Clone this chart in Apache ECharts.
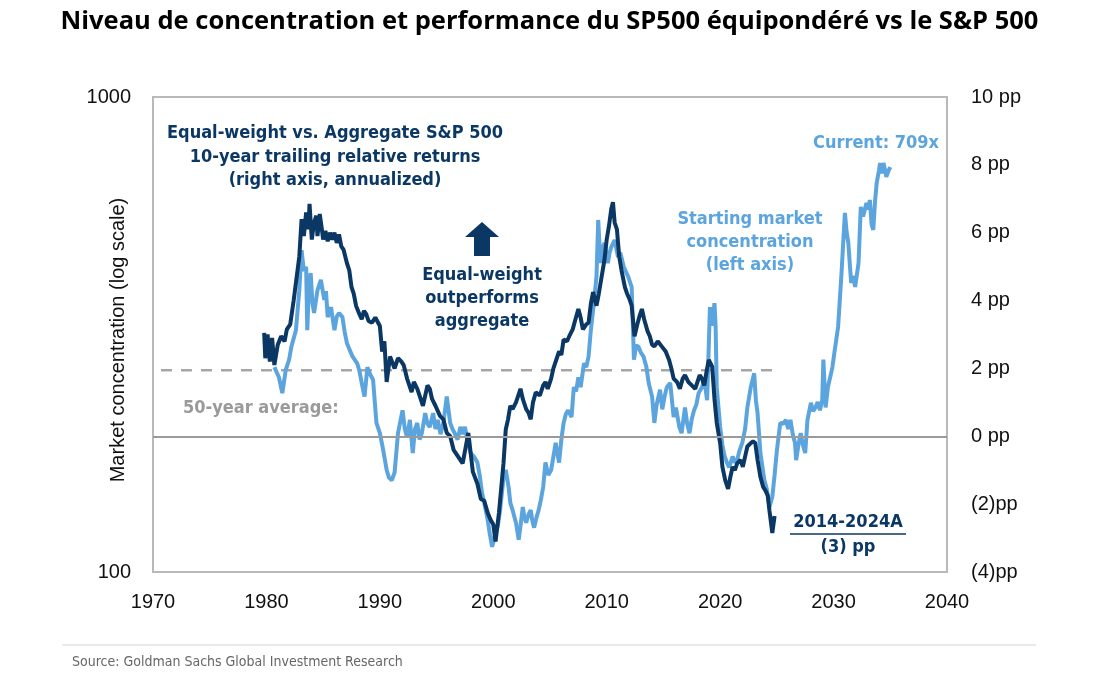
<!DOCTYPE html>
<html>
<head>
<meta charset="utf-8">
<script src="https://cdn.jsdelivr.net/npm/echarts@6/dist/echarts.min.js"></script>
<style>
html,body{margin:0;padding:0;background:#fff;}
#chart{width:1099px;height:676px;}
</style>
</head>
<body>
<div id="chart"></div>
<script>
// ---- Data ----
const xTicks = [1970, 1980, 1990, 2000, 2010, 2020, 2030, 2040];
const leftTicks = [100, 1000];
const rightTicks = [-4, -2, 0, 2, 4, 6, 8, 10];

// Equal-weight vs aggregate S&P 500, 10-year trailing relative returns (pp, right axis)
const relYears = [1979.8,1979.9,1980.1,1980.3,1980.5,1980.7,1981.0,1981.3,1981.6,1981.8,1982.1,1982.4,1982.9,1983.1,1983.3,1983.5,1983.7,1983.8,1984.0,1984.2,1984.4,1984.5,1984.7,1984.85,1985.0,1985.2,1985.4,1985.6,1985.8,1986.0,1986.2,1986.4,1986.6,1986.8,1987.1,1987.3,1987.5,1987.7,1987.9,1988.2,1988.4,1988.6,1988.8,1989.0,1989.3,1989.6,1990.0,1990.2,1990.4,1990.6,1990.9,1991.3,1991.6,1991.9,1992.1,1992.4,1992.8,1993.0,1993.3,1993.5,1993.8,1994.2,1994.4,1994.6,1994.9,1995.3,1995.6,1995.9,1996.2,1996.5,1996.9,1997.3,1997.8,1998.2,1998.6,1998.9,1999.2,1999.5,1999.75,2000.0,2000.2,2000.5,2000.9,2001.1,2001.3,2001.5,2001.7,2002.0,2002.2,2002.4,2002.6,2002.9,2003.1,2003.3,2003.5,2003.75,2004.1,2004.4,2004.6,2004.8,2005.1,2005.3,2005.6,2005.8,2006.0,2006.2,2006.5,2006.7,2007.0,2007.2,2007.5,2007.7,2007.9,2008.2,2008.4,2008.6,2008.8,2009.1,2009.3,2009.5,2009.8,2010.0,2010.2,2010.4,2010.55,2010.7,2010.9,2011.1,2011.3,2011.6,2011.8,2012.0,2012.2,2012.45,2012.7,2012.9,2013.1,2013.3,2013.6,2013.8,2014.0,2014.2,2014.5,2014.85,2015.2,2015.5,2015.7,2015.9,2016.2,2016.45,2016.7,2016.9,2017.2,2017.5,2017.8,2018.0,2018.2,2018.4,2018.6,2018.85,2019.0,2019.1,2019.3,2019.5,2019.7,2020.0,2020.2,2020.45,2020.7,2020.9,2021.1,2021.3,2021.5,2021.8,2022.0,2022.2,2022.4,2022.7,2022.9,2023.1,2023.3,2023.55,2023.8,2024.0,2024.2,2024.35,2024.6,2024.8,2024.97];
const relValues = [3.05,2.3,3.0,2.2,2.9,2.1,2.7,2.95,2.8,3.15,3.3,4.0,5.3,6.4,5.9,6.6,6.1,6.85,5.8,6.3,6.5,5.9,6.55,6.2,5.8,6.05,5.75,6.0,5.8,6.0,5.7,5.95,5.6,5.5,5.1,4.9,4.4,4.2,3.85,3.6,3.45,3.7,3.6,3.4,3.35,3.5,3.25,2.5,2.8,1.6,2.35,2.0,2.3,2.2,2.1,1.7,1.3,1.6,1.4,1.2,0.9,1.5,1.4,1.1,0.9,0.6,0.5,0.1,0.0,-0.4,-0.6,-0.8,0.1,-1.05,-1.4,-1.85,-1.9,-2.25,-2.45,-2.6,-3.1,-2.25,-0.8,0.2,0.5,0.9,0.8,1.0,1.2,1.4,1.1,0.8,0.7,0.5,1.0,1.3,1.2,1.5,1.6,1.4,1.7,2.0,2.3,2.5,2.4,2.85,2.8,2.95,3.15,3.4,3.75,3.5,3.15,3.3,3.35,3.9,4.25,3.85,4.2,4.6,5.2,5.8,6.2,6.7,6.9,6.3,6.1,5.3,4.9,4.4,4.2,4.05,3.85,2.95,3.3,3.55,3.75,3.45,3.1,2.95,2.7,2.65,2.8,2.65,2.5,2.25,2.0,1.7,1.6,1.4,1.7,1.8,1.6,1.5,1.4,1.6,1.8,1.7,1.5,2.0,2.25,2.3,2.05,1.1,0.4,-0.2,-0.9,-1.3,-1.55,-1.2,-0.9,-1.0,-0.8,-0.7,-0.9,-0.6,-0.3,-0.2,-0.15,-0.2,-0.7,-1.2,-1.5,-1.6,-1.75,-2.2,-2.85,-2.35];

// Starting market concentration (left axis, log scale), plotted 10 years forward
const concYears = [1980.7,1981.1,1981.4,1981.7,1982.0,1982.2,1982.6,1982.9,1983.1,1983.3,1983.5,1983.6,1983.75,1983.9,1984.05,1984.2,1984.5,1984.8,1985.1,1985.25,1985.4,1985.7,1985.85,1986.0,1986.2,1986.4,1986.7,1986.9,1987.1,1987.3,1987.6,1988.0,1988.2,1988.4,1988.65,1988.9,1989.1,1989.4,1989.7,1990.0,1990.25,1990.6,1990.8,1991.05,1991.3,1991.6,1992.0,1992.2,1992.4,1992.65,1992.9,1993.1,1993.3,1993.5,1993.7,1994.0,1994.2,1994.4,1994.7,1994.9,1995.1,1995.35,1995.6,1995.9,1996.2,1996.4,1996.6,1996.85,1997.1,1997.3,1997.5,1997.7,1998.0,1998.3,1998.6,1998.8,1999.0,1999.2,1999.5,1999.7,1999.9,2000.2,2000.4,2000.6,2000.9,2001.1,2001.35,2001.5,2001.7,2002.0,2002.24,2002.4,2002.6,2002.75,2002.9,2003.1,2003.3,2003.45,2003.6,2003.8,2004.0,2004.2,2004.4,2004.6,2004.85,2005.1,2005.3,2005.5,2005.65,2005.8,2006.0,2006.2,2006.4,2006.6,2006.9,2007.1,2007.3,2007.5,2007.7,2008.0,2008.2,2008.4,2008.6,2008.9,2009.1,2009.25,2009.4,2009.5,2009.65,2009.8,2010.1,2010.25,2010.4,2010.7,2011.0,2011.2,2011.5,2011.9,2012.2,2012.4,2012.6,2012.8,2013.0,2013.25,2013.5,2013.7,2014.0,2014.2,2014.4,2014.7,2014.9,2015.1,2015.3,2015.6,2015.9,2016.1,2016.4,2016.6,2016.9,2017.1,2017.3,2017.5,2017.7,2017.9,2018.1,2018.4,2018.6,2018.85,2019.0,2019.1,2019.3,2019.5,2019.6,2019.7,2020.0,2020.2,2020.4,2020.6,2020.8,2021.1,2021.3,2021.5,2021.7,2021.95,2022.2,2022.4,2022.7,2023.0,2023.15,2023.3,2023.55,2023.9,2024.1,2024.35,2024.6,2024.8,2025.0,2025.3,2025.55,2025.8,2026.0,2026.2,2026.4,2026.6,2026.7,2026.9,2027.1,2027.3,2027.5,2027.7,2028.0,2028.2,2028.4,2028.6,2028.8,2029.0,2029.1,2029.3,2029.5,2029.7,2029.9,2030.1,2030.4,2030.7,2031.0,2031.15,2031.3,2031.55,2031.75,2031.9,2032.2,2032.4,2032.6,2032.9,2033.05,2033.2,2033.35,2033.5,2033.65,2033.8,2034.0,2034.1,2034.25,2034.4,2034.55,2034.65,2034.85,2035.0];
const concValues = [270,257,238,266,280,298,323,392,476,430,439,323,400,426,370,351,392,412,374,390,344,361,340,323,345,351,344,320,303,295,284,275,265,250,234,270,262,254,206,196,183,164,158,156,162,196,219,200,192,209,178,200,206,190,196,216,205,202,216,200,209,195,206,234,206,200,196,190,202,195,202,190,178,175,170,160,147,140,129,120,113,121,125,135,158,164,151,140,135,127,117,125,137,130,127,132,135,128,124,130,135,142,151,170,160,164,175,187,178,170,190,206,215,219,212,245,240,257,245,275,270,284,323,374,420,551,470,447,480,493,447,470,483,500,460,470,439,418,398,280,300,298,290,284,270,250,234,206,225,242,220,234,245,250,212,222,202,196,222,205,196,210,219,225,238,245,254,230,300,361,330,368,330,245,202,185,175,170,166,175,170,172,180,187,200,222,245,262,230,216,178,156,150,137,144,160,180,206,205,209,200,209,195,187,172,185,196,185,178,209,227,218,222,228,219,230,280,222,245,257,270,293,328,426,570,520,493,406,420,398,447,587,560,598,580,607,540,525,600,659,700,726,690,726,700,679,700,712];

// 50-year average reference (right axis, pp)
const avgYears = [1970.7, 2025.2];
const avgValues = [1.95, 1.95];

const DARK = '#0a3764';
const LIGHT = '#5ba4de';
const NARROW = "'Liberation Sans Narrow','Arial Narrow','DejaVu Sans Condensed',sans-serif";
const ARIAL = "'Liberation Sans',Arial,sans-serif";

const zip = (a, b) => a.map((v, i) => [v, b[i]]);

const chart = echarts.init(document.getElementById('chart'));
chart.setOption({
  animation: false,
  backgroundColor: '#fff',
  title: {
    text: 'Niveau de concentration et performance du SP500 équipondéré vs le S&P 500',
    left: 'center', top: 4,
    textStyle: { fontFamily: "'Open Sans',sans-serif", fontWeight: 'bold', fontSize: 25.5, color: '#000' }
  },
  grid: { left: 153, right: 152, top: 97, bottom: 104, show: true, borderColor: '#b9b9b9', borderWidth: 2 },
  xAxis: {
    type: 'value', min: 1970, max: 2040, interval: 10,
    axisLine: { show: false }, axisTick: { show: false }, splitLine: { show: false },
    axisLabel: { fontFamily: ARIAL, fontSize: 20, color: '#111', margin: 20,
      formatter: v => xTicks.includes(v) ? String(v) : '' }
  },
  yAxis: [
    {
      type: 'log', logBase: 10, min: leftTicks[0], max: leftTicks[1],
      axisLine: { show: false }, axisTick: { show: false }, splitLine: { show: false },
      axisLabel: { fontFamily: ARIAL, fontSize: 20, color: '#111', margin: 22,
        formatter: v => String(Math.round(v)) }
    },
    {
      type: 'value', min: rightTicks[0], max: rightTicks[rightTicks.length - 1], interval: 2,
      axisLine: { show: false }, axisTick: { show: false }, splitLine: { show: false },
      axisLabel: { fontFamily: ARIAL, fontSize: 20, color: '#111', margin: 24,
        formatter: v => v < 0 ? '(' + (-v) + ')pp' : v + ' pp' }
    }
  ],
  series: [
    {
      name: '50-year average', type: 'line', yAxisIndex: 1, data: zip(avgYears, avgValues),
      symbol: 'none', silent: true,
      lineStyle: { color: '#a6a6a6', width: 2.5, type: [11, 9] },
      markLine: {
        silent: true, symbol: 'none', label: { show: false },
        lineStyle: { color: '#9a9a9a', width: 1.8, type: 'solid' },
        data: [{ yAxis: 0 }]
      }
    },
    {
      name: 'Starting market concentration', type: 'line', yAxisIndex: 0, data: zip(concYears, concValues),
      symbol: 'none', lineStyle: { color: LIGHT, width: 4 }, z: 3
    },
    {
      name: 'Equal-weight vs. Aggregate', type: 'line', yAxisIndex: 1, data: zip(relYears, relValues),
      symbol: 'none', lineStyle: { color: DARK, width: 4 }, z: 4
    }
  ],
  graphic: [
    { type: 'text', x: 62, y: 340, rotation: Math.PI / 2, style: { text: 'Market concentration (log scale)', x: 0, y: 56, align: 'center', verticalAlign: 'middle', fill: '#111', font: "20px " + ARIAL } },
    { type: 'text', x: 335, y: 122, style: { text: 'Equal-weight vs. Aggregate S&P 500\n10-year trailing relative returns\n(right axis, annualized)', align: 'center', verticalAlign: 'top', fill: DARK, font: "bold 18px " + NARROW, lineHeight: 23.5 } },
    { type: 'polygon', shape: { points: [[482, 222], [499, 237], [490, 237], [490, 256], [474, 256], [474, 237], [465, 237]] }, style: { fill: DARK } },
    { type: 'text', x: 482, y: 264, style: { text: 'Equal-weight\noutperforms\naggregate', align: 'center', verticalAlign: 'top', fill: DARK, font: "bold 18px " + NARROW, lineHeight: 23 } },
    { type: 'text', x: 750, y: 208, style: { text: 'Starting market\nconcentration\n(left axis)', align: 'center', verticalAlign: 'top', fill: LIGHT, font: "bold 18px " + NARROW, lineHeight: 23 } },
    { type: 'text', x: 876, y: 143, style: { text: 'Current: 709x', align: 'center', verticalAlign: 'middle', fill: LIGHT, font: "bold 18px " + NARROW } },
    { type: 'text', x: 183, y: 408, style: { text: '50-year average:', align: 'left', verticalAlign: 'middle', fill: '#9a9a9a', font: "bold 18px " + NARROW } },
    { type: 'text', x: 848, y: 522, style: { text: '2014-2024A', align: 'center', verticalAlign: 'middle', fill: DARK, font: "bold 18px " + NARROW } },
    { type: 'line', shape: { x1: 790, y1: 534, x2: 906, y2: 534 }, style: { stroke: DARK, lineWidth: 1.5 } },
    { type: 'text', x: 848, y: 547, style: { text: '(3) pp', align: 'center', verticalAlign: 'middle', fill: DARK, font: "bold 18px " + NARROW } },
    { type: 'line', shape: { x1: 62, y1: 645, x2: 1036, y2: 645 }, style: { stroke: '#e3e3e3', lineWidth: 1.5 } },
    { type: 'text', x: 72, y: 662, style: { text: 'Source: Goldman Sachs Global Investment Research', align: 'left', verticalAlign: 'middle', fill: '#666', font: "14px " + NARROW } }
  ]
});
</script>
</body>
</html>
